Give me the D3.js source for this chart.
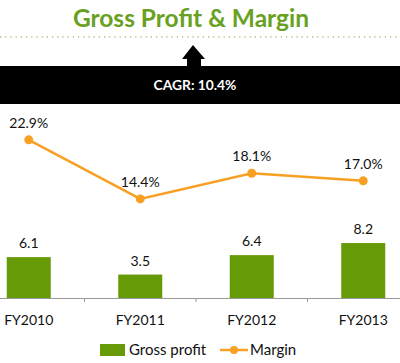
<!DOCTYPE html>
<html>
<head>
<meta charset="utf-8">
<script src="https://cdn.jsdelivr.net/npm/d3@7"></script>
<style>
  body { margin: 0; background: #fff; }
  text { font-family: Lato, "Open Sans", sans-serif; }
</style>
</head>
<body>
<script>
var years = ["FY2010", "FY2011", "FY2012", "FY2013"];
var grossProfit = [6.1, 3.5, 6.4, 8.2];
var margin = [22.9, 14.4, 18.1, 17.0];
var cagrLabel = "CAGR: 10.4%";

var w = 400, h = 363;

var svg = d3.select("body")
    .append("svg")
    .attr("width", w)
    .attr("height", h);

// title + dotted rule
svg.append("text")
    .attr("x", 191).attr("y", 27)
    .attr("text-anchor", "middle")
    .attr("font-size", 24.5).attr("font-weight", "bold")
    .attr("fill", "#68a121")
    .text("Gross Profit & Margin");

svg.append("line")
    .attr("x1", 0).attr("x2", w)
    .attr("y1", 37).attr("y2", 37)
    .attr("stroke", "#8a9a3a")
    .attr("stroke-width", 1.2)
    .attr("stroke-dasharray", "1.2,4");

// black CAGR band with arrow
svg.append("path")
    .attr("d", "M193,45 L205,59 L201,59 L201,67 L187,67 L187,59 L182,59 Z")
    .attr("fill", "#000");

svg.append("rect")
    .attr("x", 0).attr("y", 66)
    .attr("width", w).attr("height", 38)
    .attr("fill", "#000");

svg.append("text")
    .attr("x", 195).attr("y", 90)
    .attr("text-anchor", "middle")
    .attr("font-size", 13.8).attr("font-weight", "bold")
    .attr("fill", "#fff")
    .text(cagrLabel);

// scales
var x = d3.scaleBand()
    .domain(years)
    .range([-27, 419]);

var xc = d3.scalePoint()
    .domain(years)
    .range([-27, 419])
    .padding(0.5);

var yBar = d3.scaleLinear().domain([0, 10]).range([298, 231]);
var yLine = d3.scaleLinear().domain([0, 25]).range([299, 125.25]);

// bars
svg.selectAll(".bar")
    .data(grossProfit)
    .enter()
    .append("rect")
    .attr("class", "bar")
    .attr("x", function(d, i){ return xc(years[i]) - 22; })
    .attr("width", 44)
    .attr("y", function(d){ return yBar(d); })
    .attr("height", function(d){ return yBar(0) - yBar(d); })
    .attr("fill", "#669a06");

svg.selectAll(".barLabel")
    .data(grossProfit)
    .enter()
    .append("text")
    .attr("class", "barLabel")
    .attr("x", function(d, i){ return xc(years[i]); })
    .attr("y", function(d){ return yBar(d) - 9; })
    .attr("text-anchor", "middle")
    .attr("font-size", 14)
    .attr("fill", "#111")
    .text(function(d){ return d.toFixed(1); });

// x axis
var axis = svg.append("g")
    .attr("transform", "translate(0,298)")
    .call(d3.axisBottom(x).tickSize(0).tickSizeOuter(0).tickFormat(""));
axis.select(".domain").attr("stroke", "#999");
axis.selectAll(".sep")
    .data(years.slice(1))
    .enter()
    .append("line")
    .attr("class", "sep")
    .attr("x1", function(d){ return x(d); })
    .attr("x2", function(d){ return x(d); })
    .attr("y1", 0).attr("y2", 4)
    .attr("stroke", "#999");

svg.selectAll(".cat")
    .data(years)
    .enter()
    .append("text")
    .attr("class", "cat")
    .attr("x", function(d){ return xc(d); })
    .attr("y", 325)
    .attr("text-anchor", "middle")
    .attr("font-size", 14)
    .attr("fill", "#111")
    .text(function(d){ return d; });

// margin line
var line = d3.line()
    .x(function(d, i){ return xc(years[i]); })
    .y(function(d){ return yLine(d); });

svg.append("path")
    .datum(margin)
    .attr("d", line)
    .attr("fill", "none")
    .attr("stroke", "#f7a023")
    .attr("stroke-width", 2.5);

svg.selectAll(".dot")
    .data(margin)
    .enter()
    .append("circle")
    .attr("class", "dot")
    .attr("cx", function(d, i){ return xc(years[i]); })
    .attr("cy", function(d){ return yLine(d); })
    .attr("r", 4.5)
    .attr("fill", "#f7a023");

svg.selectAll(".lineLabel")
    .data(margin)
    .enter()
    .append("text")
    .attr("class", "lineLabel")
    .attr("x", function(d, i){ return xc(years[i]); })
    .attr("y", function(d){ return yLine(d) - 12; })
    .attr("text-anchor", "middle")
    .attr("font-size", 14)
    .attr("fill", "#111")
    .text(function(d){ return d.toFixed(1) + "%"; });

// legend
var legend = svg.append("g");
legend.append("rect")
    .attr("x", 100).attr("y", 344)
    .attr("width", 25).attr("height", 12)
    .attr("fill", "#669a06");
legend.append("text")
    .attr("x", 129).attr("y", 355)
    .attr("font-size", 15).attr("fill", "#111")
    .text("Gross profit");
legend.append("line")
    .attr("x1", 220).attr("x2", 248)
    .attr("y1", 350).attr("y2", 350)
    .attr("stroke", "#f7a023").attr("stroke-width", 2.5);
legend.append("circle")
    .attr("cx", 234).attr("cy", 350).attr("r", 4)
    .attr("fill", "#f7a023");
legend.append("text")
    .attr("x", 250).attr("y", 355)
    .attr("font-size", 15).attr("fill", "#111")
    .text("Margin");
</script>
</body>
</html>
